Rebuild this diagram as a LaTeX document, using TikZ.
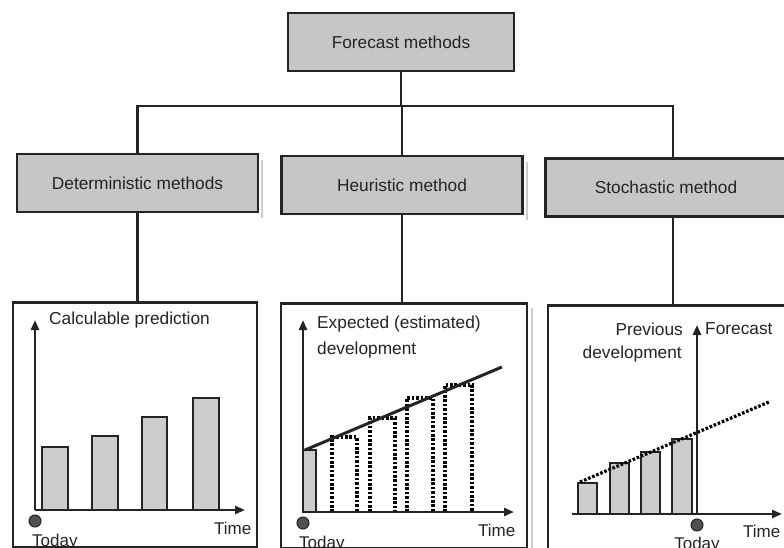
\documentclass[tikz,border=0pt]{standalone}
\usepackage{fontspec}
\setmainfont{Liberation Sans}
\usetikzlibrary{arrows.meta}
\definecolor{boxgray}{HTML}{C6C6C6}
\definecolor{bargray}{HTML}{CDCDCD}
\definecolor{ink}{HTML}{242424}
\begin{document}
\begin{tikzpicture}[x=1pt,y=-1pt,
  method/.style={draw=ink, line width=2.6pt, fill=boxgray, minimum width=241pt,
    minimum height=58pt, inner sep=0pt, text=ink, font=\fontsize{17.3}{20}\selectfont},
  panel/.style={draw=ink, line width=2.6pt, fill=white, minimum width=244pt,
    minimum height=245pt, inner sep=0pt},
  link/.style={ink, line width=2.6pt},
  axis/.style={ink, line width=2.6pt, -{Triangle[length=10pt,width=8pt]}},
  bar/.style={draw=ink, line width=2pt, fill=bargray},
  label/.style={inner sep=0pt, text=ink, font=\fontsize{17.3}{20}\selectfont},
  small/.style={inner sep=0pt, text=ink, font=\fontsize{17}{20}\selectfont},
  today/.style={circle, draw=ink, fill=ink!80, minimum size=12pt, inner sep=0pt, line width=1pt},
  dots/.style={black, line width=3.2pt, dash pattern=on 2.6pt off 1.8pt},
  shade/.style={gray!40, line width=2.5pt}
]
\useasboundingbox (0,0) rectangle (784,548);
\clip (0,0) rectangle (784,548);
\fill[white] (0,0) rectangle (784,548);

% light shadow strips beside the method boxes
\draw[shade] (262,160) -- (262,218);
\draw[shade] (527,162) -- (527,220);
\draw[shade] (532,308) -- (532,548);

% hierarchy boxes
\node[method, minimum width=226pt] (fm) at (401,42) {Forecast methods};
\node[method] (det) at (137.5,183) {Deterministic methods};
\node[method] (heu) at (402,185) {Heuristic method};
\node[method] (sto) at (666,187.5) {Stochastic method};

% chart panels
\node[panel] (p1) at (135,425) {};
\node[panel, minimum width=246pt] (p2) at (404,426) {};
\node[panel] (p3) at (670,428) {};

% tree connectors
\coordinate (bus) at (402,106);
\coordinate (stoTop) at ([xshift=7pt]sto.north);
\coordinate (stoBot) at ([xshift=7pt]sto.south);
\draw[link] (fm.south) -- (fm.south |- bus);
\draw[link] (det.north) |- (bus) -| (stoTop);
\draw[link] (heu.north) -- (heu.north |- bus);
\draw[link] (det.south) -- (det.south |- p1.north);
\draw[link] (heu.south) -- (heu.south |- p2.north);
\draw[link] (stoBot) -- (stoBot |- p3.north);

% ---- deterministic: calculable prediction
\draw[bar] (42,510) rectangle (68,447);
\draw[bar] (92,510) rectangle (118,436);
\draw[bar] (142,510) rectangle (167,417);
\draw[bar] (193,510) rectangle (219,398);
\coordinate (o1) at (35,510);
\draw[axis] (o1) -- (35,320);
\draw[axis] (o1) -- (245,510);
\node[today] (t1) at (35,521) {};
\node[label, anchor=west] (l1) at (49,320) {Calculable prediction};
\node[small, anchor=base west] (time1) at (214,534) {Time};
\node[small, anchor=base west] (day1) at (32,546) {Today};

% ---- heuristic: expected development
\draw[bar] (303,512) rectangle (316,450);
\draw[dots] (332,512) |- (357,437) -- (357,512);
\draw[dots] (370,512) |- (395,418) -- (395,512);
\draw[dots] (407,512) |- (433,398) -- (433,512);
\draw[dots] (445,512) |- (472,385) -- (472,512);
\draw[ink, line width=3pt] (305,450) -- (502,367);
\coordinate (o2) at (303,512);
\draw[axis] (o2) -- (303,320);
\draw[axis] (o2) -- (514,512);
\node[today] (t2) at (303,523) {};
\node[label, anchor=west] (l2a) at (317,324) {Expected (estimated)};
\node[label, anchor=west] (l2b) at (317,350) {development};
\node[small, anchor=base west] (time2) at (478,536) {Time};
\node[small, anchor=base west] (day2) at (299,548) {Today};

% ---- stochastic: previous development and forecast
\draw[bar] (578,514) rectangle (597,483);
\draw[bar] (610,514) rectangle (629,463);
\draw[bar] (641,514) rectangle (660,452);
\draw[bar] (672,514) rectangle (692,439);
\draw[black, line width=3.2pt, dash pattern=on 2.6pt off 1.8pt] (580,482) -- (769,402);
\draw[axis] (572,514) -- (782,514);
\coordinate (o3) at (697,514);
\draw[axis] (o3) -- (697,325);
\node[today] (t3) at (697,525) {};
\node[label, anchor=east] (l3a) at (683,329) {Previous};
\node[label, anchor=east] (l3b) at (682,354) {development};
\node[label, anchor=west] (l3c) at (705,329) {Forecast};
\node[small, anchor=base west] (time3) at (743,537) {Time};
\node[small, anchor=base] (day3) at (697,549) {Today};
\end{tikzpicture}
\end{document}
